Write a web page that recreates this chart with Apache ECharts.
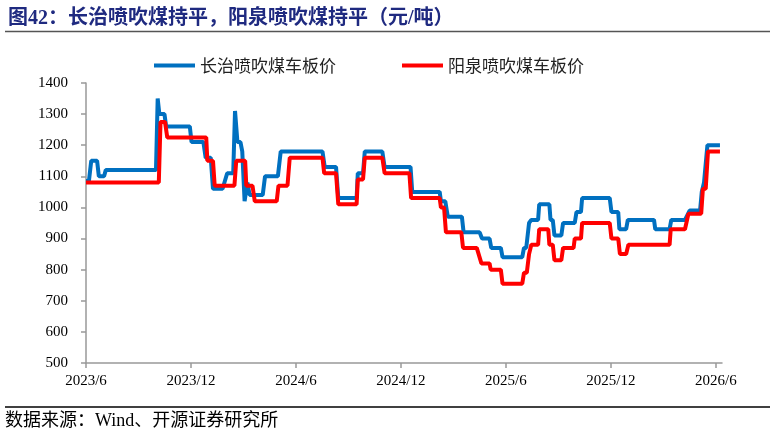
<!DOCTYPE html>
<html>
<head>
<meta charset="utf-8">
<script src="https://cdn.jsdelivr.net/npm/echarts@6/dist/echarts.min.js"></script>
<style>
  html, body { margin: 0; padding: 0; background: #fff; }
  #main { width: 774px; height: 436px; }
</style>
</head>
<body>
<div id="main"></div>
<script>
// 长治喷吹煤车板价（拐点）
const changzhiDates = [
  '2023-06-01','2023-06-06','2023-06-10','2023-06-20','2023-06-23','2023-07-02','2023-07-05',
  '2023-10-01','2023-10-04','2023-10-07','2023-10-16','2023-10-19','2023-11-29','2023-12-02',
  '2023-12-23','2023-12-27','2024-01-05','2024-01-09','2024-01-26','2024-02-03','2024-02-13',
  '2024-02-16','2024-02-20','2024-02-25','2024-02-28','2024-03-03','2024-03-08','2024-03-12',
  '2024-04-04','2024-04-08','2024-04-30','2024-05-05','2024-07-17','2024-07-21','2024-08-10',
  '2024-08-14','2024-09-15','2024-09-17','2024-09-26','2024-09-29','2024-10-30','2024-11-03',
  '2024-12-18','2024-12-21','2025-02-07','2025-02-09','2025-02-16','2025-02-20','2025-03-16',
  '2025-03-19','2025-04-16','2025-04-20','2025-05-03','2025-05-06','2025-05-23','2025-05-26',
  '2025-06-29','2025-07-02','2025-07-06','2025-07-11','2025-07-15','2025-07-27','2025-07-29',
  '2025-08-16','2025-08-18','2025-08-22','2025-08-25','2025-09-06','2025-09-09','2025-09-29',
  '2025-10-02','2025-10-10','2025-10-12','2025-11-29','2025-12-02','2025-12-14','2025-12-16',
  '2025-12-28','2025-12-31','2026-02-14','2026-02-16','2026-03-12','2026-03-15','2026-04-08',
  '2026-04-16','2026-05-04','2026-05-07','2026-05-09','2026-05-11','2026-05-17','2026-06-08'
];
const changzhiValues = [
  1085,1085,1150,1150,1100,1100,1120,
  1120,1350,1300,1300,1260,1260,1210,
  1210,1160,1160,1060,1060,1110,1110,
  1310,1210,1210,1180,1020,1080,1040,
  1040,1100,1100,1180,1180,1130,1130,
  1030,1030,1110,1110,1180,1180,1130,
  1130,1050,1050,1020,1020,970,970,
  920,920,900,900,870,870,840,
  840,870,870,950,960,960,1010,
  1010,960,960,910,910,950,950,
  985,985,1030,1030,985,985,930,
  930,960,960,930,930,960,960,
  990,990,1050,1050,1080,1200,1200
];

// 阳泉喷吹煤车板价（拐点）
const yangquanDates = [
  '2023-06-01','2023-10-06','2023-10-09','2023-10-17','2023-10-21','2023-12-28','2023-12-30',
  '2024-01-09','2024-01-12','2024-02-15','2024-02-18','2024-03-04','2024-03-06','2024-03-17',
  '2024-03-21','2024-04-28','2024-05-01','2024-05-17','2024-05-21','2024-07-17','2024-07-20',
  '2024-08-10','2024-08-14','2024-09-15','2024-09-17','2024-09-26','2024-09-29','2024-10-30',
  '2024-11-03','2024-12-16','2024-12-19','2025-02-07','2025-02-09','2025-02-14','2025-02-17',
  '2025-03-15','2025-03-18','2025-04-11','2025-04-19','2025-05-03','2025-05-05','2025-05-23',
  '2025-05-26','2025-06-29','2025-07-02','2025-07-07','2025-07-11','2025-07-15','2025-07-27',
  '2025-07-29','2025-08-14','2025-08-16','2025-08-22','2025-08-25','2025-09-06','2025-09-09',
  '2025-09-27','2025-09-29','2025-10-10','2025-10-12','2025-11-29','2025-12-02','2025-12-14',
  '2025-12-17','2025-12-28','2026-01-01','2026-03-12','2026-03-14','2026-04-08','2026-04-14',
  '2026-05-06','2026-05-09','2026-05-14','2026-05-18','2026-06-08'
];
const yangquanValues = [
  1080,1080,1275,1275,1225,1225,1150,
  1150,1070,1070,1150,1150,1070,1070,
  1020,1020,1070,1070,1160,1160,1110,
  1110,1010,1010,1090,1090,1160,1160,
  1110,1110,1030,1030,1000,1000,920,
  920,870,870,820,820,800,800,
  755,755,790,790,850,880,880,
  930,930,880,880,830,830,870,
  870,900,900,950,950,900,900,
  850,850,880,880,930,930,980,
  980,1060,1060,1180,1180
];

const xTickMonths = [0, 6, 12, 18, 24, 30, 36];   // 2023/6 起算的月数
const yMin = 500, yMax = 1400, yStep = 100;

// 日期 -> 自 2023/6 起的月数（带小数）
function toMonth(s) {
  const [y, m, d] = s.split('-').map(Number);
  const dim = new Date(y, m, 0).getDate();
  return (y - 2023) * 12 + (m - 6) + (d - 1) / dim;
}
function monthLabel(v) {
  const k = Math.round(v) + 5;
  return (2023 + Math.floor(k / 12)) + '/' + (k % 12 + 1);
}

const serif = 'Liberation Serif, "Noto Sans CJK SC", serif';
const chart = echarts.init(document.getElementById('main'));
chart.setOption({
  backgroundColor: '#fff',
  animation: false,
  title: {
    text: '图42：长治喷吹煤持平，阳泉喷吹煤持平（元/吨）',
    left: 3, top: 4,
    textStyle: { fontFamily: serif, fontSize: 20, fontWeight: 'bold', color: '#1F2A80' }
  },
  legend: {
    left: 149, top: 52,
    itemWidth: 41, itemHeight: 4, itemGap: 66,
    icon: 'rect',
    textStyle: { fontFamily: '"Noto Sans CJK SC"', fontSize: 17, color: '#222' },
    data: ['长治喷吹煤车板价', '阳泉喷吹煤车板价']
  },
  grid: { left: 86, right: 52, top: 83, bottom: 73, containLabel: false },
  xAxis: {
    type: 'value',
    min: 0, max: 36.35,
    axisLine: { lineStyle: { color: '#999', width: 1.5 } },
    axisTick: { length: 5, customValues: xTickMonths, lineStyle: { color: '#999', width: 1.5 } },
    axisLabel: {
      customValues: xTickMonths, margin: 11,
      fontFamily: serif, fontSize: 15, color: '#000',
      formatter: monthLabel
    },
    splitLine: { show: false }
  },
  yAxis: {
    type: 'value',
    min: yMin, max: yMax, interval: yStep,
    axisLine: { show: true, lineStyle: { color: '#999', width: 1.5 } },
    axisTick: { show: true, length: 5, lineStyle: { color: '#999', width: 1.5 } },
    axisLabel: { margin: 18, fontFamily: serif, fontSize: 15, color: '#000', formatter: v => String(v) },
    splitLine: { show: false }
  },
  series: [
    {
      name: '长治喷吹煤车板价', type: 'line', showSymbol: false,
      lineStyle: { color: '#0070C0', width: 4 }, itemStyle: { color: '#0070C0' },
      data: changzhiDates.map((d, i) => [toMonth(d), changzhiValues[i]])
    },
    {
      name: '阳泉喷吹煤车板价', type: 'line', showSymbol: false,
      lineStyle: { color: '#FF0000', width: 4 }, itemStyle: { color: '#FF0000' },
      data: yangquanDates.map((d, i) => [toMonth(d), yangquanValues[i]])
    }
  ],
  graphic: [
    { type: 'line', shape: { x1: 5, y1: 31.5, x2: 770, y2: 31.5 }, style: { stroke: '#555', lineWidth: 1.5 } },
    { type: 'line', shape: { x1: 5, y1: 407, x2: 770, y2: 407 }, style: { stroke: '#000', lineWidth: 1.5 } },
    {
      type: 'text', left: 5, top: 412,
      style: { text: '数据来源：Wind、开源证券研究所', font: '18px ' + serif, fill: '#000' }
    }
  ]
});
</script>
</body>
</html>
